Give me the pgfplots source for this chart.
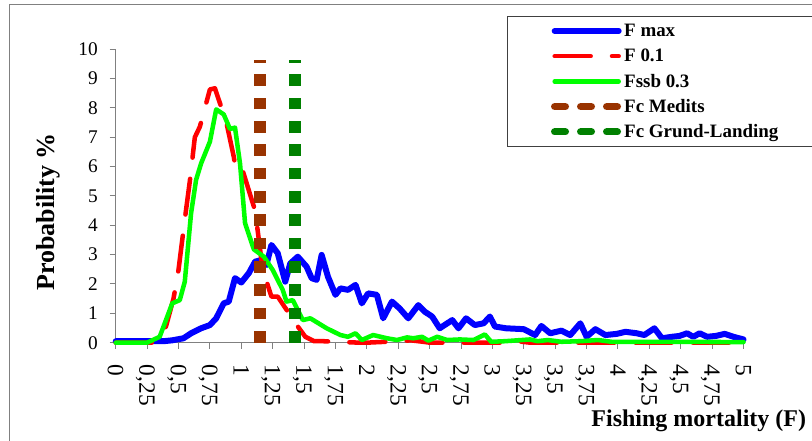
\documentclass[border=0pt]{standalone}
\usepackage{fontspec}
\setmainfont{Liberation Serif}
\usepackage{pgfplots}
\pgfplotsset{compat=1.18}
\definecolor{fblue}{RGB}{0,0,255}
\definecolor{fred}{RGB}{255,0,0}
\definecolor{fgreen}{RGB}{0,255,0}
\definecolor{fbrown}{RGB}{153,51,0}
\definecolor{fdgreen}{RGB}{0,128,0}
\definecolor{axgray}{RGB}{128,128,128}
\begin{document}
\begin{tikzpicture}
\useasboundingbox (0,0) rectangle (609pt,-330.75pt);
\draw[axgray, line width=0.75pt] (6.75pt,-340pt) -- (6.75pt,-3.75pt) -- (620pt,-3.75pt);
\begin{axis}[
  at={(86.8pt,-257pt)}, anchor=south west,
  scale only axis, width=470.85pt, height=220.05pt,
  xmin=0, xmax=5, ymin=0, ymax=10,
  axis lines=left, axis line style={-, axgray, line width=0.75pt},
  clip=false,
  tick align=outside, major tick length=4.5pt,
  tick style={axgray, line width=0.75pt},
  xtick={0,0.25,0.5,0.75,1,1.25,1.5,1.75,2,2.25,2.5,2.75,3,3.25,3.5,3.75,4,4.25,4.5,4.75,5},
  xticklabels={0,{0,25},{0,5},{0,75},1,{1,25},{1,5},{1,75},2,{2,25},{2,5},{2,75},3,{3,25},{3,5},{3,75},4,{4,25},{4,5},{4,75},5},
  ytick={0,1,2,3,4,5,6,7,8,9,10},
  /pgf/number format/assume math mode=true,
  yticklabel style={font=\fontsize{14.5}{14.5}\selectfont, inner sep=0pt, xshift=-8.8pt},
  xticklabel style={rotate=-90, anchor=west, font=\fontsize{17.5}{17.5}\selectfont, inner sep=0pt, text depth=0pt, xshift=12pt},
  xlabel={Fishing mortality (F)},
  ylabel={Probability \%},
  xlabel style={at={(axis description cs:1.100,-0.285)}, anchor=base east, font=\fontsize{18}{18}\selectfont\bfseries, inner sep=0pt},
  ylabel style={at={(axis description cs:-0.1078,0.4455)}, anchor=center, font=\fontsize{19.5}{19.5}\selectfont\bfseries, inner sep=0pt},
  legend style={at={(axis description cs:0.6233,1.1135)}, anchor=north west, draw=black!75, line width=0.75pt,
    inner xsep=32.6pt, inner ysep=6.6pt, row sep=10.3pt, column sep=1.4pt,
    font=\fontsize{14.2}{14.2}\selectfont\bfseries,
    nodes={inner sep=0pt, text height=8.6pt, text depth=0pt}},
  legend cell align=left,
  legend image code/.code={\draw[#1] (0pt,0pt) -- (48pt,0pt);},
]
\addplot[fblue, line width=4.5pt, line join=round, line cap=round] coordinates {
(0,0.05) (0.30,0.05) (0.38,0.05) (0.45,0.08) (0.54,0.15) (0.60,0.32) (0.68,0.49) (0.75,0.60)
(0.80,0.83) (0.86,1.34) (0.90,1.40) (0.95,2.20) (1.00,2.05) (1.06,2.37) (1.11,2.76) (1.16,2.82)
(1.20,2.65) (1.24,3.33) (1.29,3.05) (1.35,2.08) (1.39,2.70) (1.45,2.93) (1.52,2.59) (1.56,2.20)
(1.60,2.14) (1.64,2.99) (1.69,2.25) (1.75,1.63) (1.79,1.85) (1.85,1.80) (1.91,1.97) (1.96,1.34)
(2.01,1.68) (2.08,1.63) (2.13,0.83) (2.20,1.40) (2.26,1.17) (2.33,0.83) (2.41,1.28) (2.46,1.06)
(2.52,0.89) (2.58,0.49) (2.68,0.77) (2.73,0.49) (2.79,0.83) (2.86,0.60) (2.93,0.66) (2.98,0.89)
(3.02,0.55) (3.11,0.49) (3.25,0.46) (3.34,0.26) (3.39,0.57) (3.46,0.32) (3.55,0.41) (3.62,0.26)
(3.70,0.66) (3.75,0.20) (3.82,0.46) (3.90,0.26) (3.99,0.30) (4.06,0.37) (4.15,0.32) (4.21,0.26)
(4.29,0.49) (4.35,0.15) (4.43,0.20) (4.49,0.23) (4.55,0.32) (4.60,0.20) (4.65,0.32) (4.71,0.20)
(4.78,0.23) (4.85,0.30) (4.92,0.20) (5.00,0.11)};
\addlegendentry{F max}
\addplot[fred, line width=3.4pt, line join=round, line cap=round, dash pattern=on 27pt off 16pt] coordinates {
(0,0) (0.30,0) (0.40,0.55) (0.46,1.5) (0.50,2.48) (0.55,4.2) (0.59,5.5) (0.63,7.0) (0.67,7.36)
(0.75,8.63) (0.79,8.67) (0.83,8.16) (0.88,7.53) (0.94,6.34) (0.96,5.8) (1.01,5.88) (1.11,4.5)
(1.17,2.5) (1.24,1.57) (1.29,1.57) (1.37,1.06) (1.39,0.72) (1.45,0.55) (1.51,0.2) (1.58,0.05)
(1.65,0.05) (1.94,0) (2.00,0) (2.25,0.05) (2.35,0.08) (2.45,0.03) (2.50,0) (3.10,0) (3.20,0.05)
(3.30,0) (5.00,0)};
\addlegendentry{F 0.1}
\addplot[fgreen, line width=3.4pt, line join=round, line cap=round] coordinates {
(0,0) (0.25,0) (0.35,0.2) (0.45,1.34) (0.51,1.45) (0.55,2.08) (0.60,4.41) (0.64,5.55) (0.68,6.11)
(0.75,6.85) (0.80,7.95) (0.86,7.78) (0.91,7.28) (0.95,7.33) (0.99,6.1) (1.03,4.07) (1.10,3.18)
(1.18,2.93) (1.25,2.48) (1.33,1.80) (1.36,1.40) (1.41,1.45) (1.49,0.77) (1.55,0.83) (1.68,0.49)
(1.79,0.26) (1.85,0.20) (1.91,0.32) (1.96,0.09) (2.05,0.26) (2.16,0.15) (2.24,0.09) (2.32,0.18)
(2.37,0.15) (2.44,0.20) (2.49,0.07) (2.56,0.20) (2.64,0.09) (2.74,0.11) (2.85,0.09) (2.94,0.28)
(2.99,0.03) (3.10,0.05) (3.30,0.11) (3.36,0.05) (3.44,0.09) (3.55,0.03) (3.70,0.05) (3.84,0.09)
(3.95,0.03) (4.20,0.03) (5.00,0.02)};
\addlegendentry{Fssb 0.3}
\addplot[fbrown, line width=8.75pt, dash pattern=on 8.75pt off 8.75pt, forget plot] coordinates {(1.15,0) (1.15,9.65)};
\addplot[fdgreen, line width=8.75pt, dash pattern=on 8.75pt off 8.75pt, forget plot] coordinates {(1.43,0) (1.43,9.65)};
\addlegendimage{fbrown, line width=5.5pt, line cap=round, dash pattern=on 8pt off 11.5pt}
\addlegendentry{Fc Medits}
\addlegendimage{fdgreen, line width=5.5pt, line cap=round, dash pattern=on 8pt off 11.5pt}
\addlegendentry{Fc Grund-Landing}
\end{axis}
\end{tikzpicture}
\end{document}
